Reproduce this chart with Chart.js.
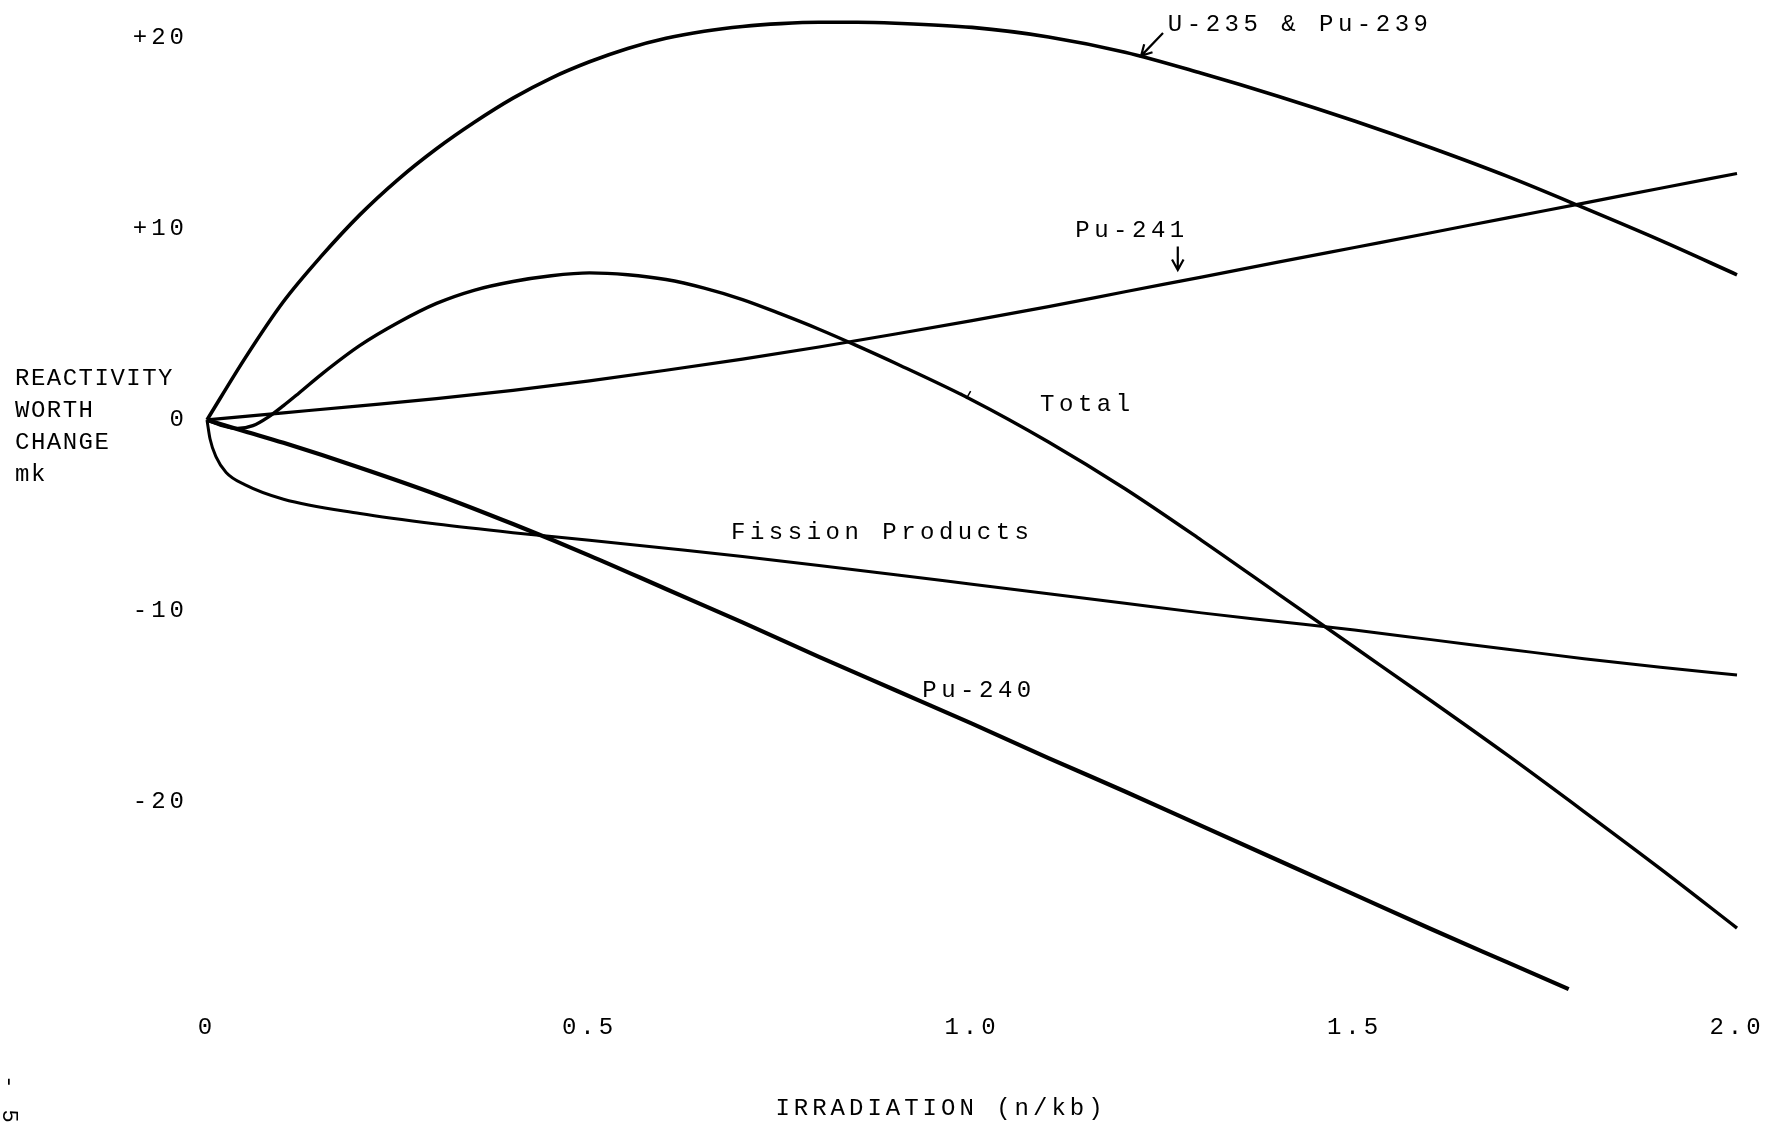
<!DOCTYPE html>
<html>
<head>
<meta charset="utf-8">
<script src="https://cdn.jsdelivr.net/npm/chart.js@4.4.1/dist/chart.umd.min.js"></script>
<style>
  html, body { margin: 0; padding: 0; background: #fff; }
  #graph { display: block; }
</style>
</head>
<body>
<canvas id="graph" width="1769" height="1125"></canvas>
<script>
// * Data: irradiation (n/kb) vs reactivity worth change (mk)
const u235X = [0, 0.05, 0.1, 0.15, 0.2, 0.25, 0.3, 0.35, 0.4, 0.45, 0.5, 0.55, 0.6, 0.65, 0.7, 0.75, 0.8, 0.85, 0.9, 1.0, 1.1, 1.2, 1.3, 1.4, 1.5, 1.6, 1.7, 1.8, 1.9, 2.0];
const u235Y = [0, 3.25, 6.2, 8.6, 10.75, 12.6, 14.2, 15.6, 16.85, 17.9, 18.75, 19.45, 19.98, 20.35, 20.6, 20.75, 20.82, 20.82, 20.77, 20.55, 20.05, 19.25, 18.15, 16.95, 15.65, 14.25, 12.75, 11.1, 9.4, 7.6];

const pu241X = [0, 0.1, 0.2, 0.3, 0.4, 0.5, 0.6, 0.7, 0.8, 0.9, 1.0, 1.1, 1.2, 1.3, 1.4, 1.5, 1.6, 1.7, 1.8, 1.9, 2.0];
const pu241Y = [0, 0.37, 0.74, 1.12, 1.55, 2.05, 2.6, 3.18, 3.82, 4.5, 5.2, 5.93, 6.71, 7.48, 8.26, 9.03, 9.8, 10.58, 11.35, 12.13, 12.9];

const totalX = [0, 0.02, 0.04, 0.06, 0.08, 0.1, 0.12, 0.15, 0.2, 0.25, 0.3, 0.35, 0.4, 0.45, 0.5, 0.55, 0.6, 0.65, 0.7, 0.75, 0.8, 0.85, 0.9, 1.0, 1.1, 1.2, 1.3, 1.4, 1.5, 1.6, 1.7, 1.8, 1.9, 2.0];
const totalY = [0, -0.3, -0.45, -0.3, 0.15, 0.75, 1.4, 2.4, 3.9, 5.1, 6.1, 6.8, 7.25, 7.55, 7.7, 7.6, 7.35, 6.9, 6.3, 5.55, 4.75, 3.88, 2.97, 1.05, -1.15, -3.6, -6.3, -9.1, -11.9, -14.7, -17.55, -20.5, -23.5, -26.6];

const fissionX = [0, 0.004, 0.012, 0.025, 0.05, 0.1, 0.2, 0.3, 0.4, 0.5, 0.6, 0.7, 0.8, 0.9, 1.0, 1.1, 1.2, 1.3, 1.4, 1.5, 1.6, 1.7, 1.8, 1.9, 2.0];
const fissionY = [0, -1.0, -1.95, -2.75, -3.4, -4.15, -4.9, -5.45, -5.9, -6.3, -6.72, -7.15, -7.62, -8.1, -8.6, -9.1, -9.6, -10.1, -10.55, -11.0, -11.5, -12.0, -12.5, -12.95, -13.35];

const pu240X = [0, 0.05, 0.1, 0.2, 0.3, 0.4, 0.5, 0.6, 0.7, 0.8, 0.9, 1.0, 1.1, 1.2, 1.3, 1.4, 1.5, 1.6, 1.7, 1.78];
const pu240Y = [0, -0.6, -1.2, -2.5, -3.9, -5.45, -7.1, -8.85, -10.6, -12.4, -14.15, -15.9, -17.7, -19.45, -21.25, -23.05, -24.85, -26.65, -28.4, -29.8];

const xTicks = [0, 0.5, 1.0, 1.5, 2.0];
const yTicks = [-20, -10, 0, 10, 20];
const xTitle = "IRRADIATION (n/kb)";
const yTitleLines = ["REACTIVITY", "WORTH", "CHANGE", "mk"];

// curve labels, placed in data units
const curveLabels = [
  { text: "U-235 & Pu-239", x: 1.256, y: 20.7 },
  { text: "Pu-241", x: 1.135, y: 9.92 },
  { text: "Total", x: 1.089, y: 0.78 },
  { text: "Fission Products", x: 0.685, y: -5.92 },
  { text: "Pu-240", x: 0.935, y: -14.19 },
];
const labelArrows = [
  { x1: 1.2497, y1: 20.26, x2: 1.221, y2: 19.06 },
  { x1: 1.269, y1: 9.08, x2: 1.269, y2: 7.85 },
];
// small pen mark sitting on the Total curve
const totalMark = { x: 0.993, y: 1.2 };

const monoFont = '"Liberation Mono", "Courier New", monospace';

const toPoints = (xs, ys) => xs.map((x, i) => ({ x: x, y: ys[i] }));

const curve = (label, xs, ys, width) => ({
  label: label,
  data: toPoints(xs, ys),
  borderColor: "#000",
  borderWidth: width,
  pointRadius: 0,
  fill: false,
  clip: false,
  cubicInterpolationMode: "monotone",
});

// * Arrows and free text
function drawArrow(ctx, x1, y1, x2, y2) {
  const ang = Math.atan2(y2 - y1, x2 - x1);
  const head = 12;
  ctx.beginPath();
  ctx.moveTo(x1, y1);
  ctx.lineTo(x2, y2);
  ctx.moveTo(x2 - head * Math.cos(ang - 0.5), y2 - head * Math.sin(ang - 0.5));
  ctx.lineTo(x2, y2);
  ctx.lineTo(x2 - head * Math.cos(ang + 0.5), y2 - head * Math.sin(ang + 0.5));
  ctx.stroke();
}

const annotations = {
  id: "annotations",
  beforeDraw(chart) {
    chart.ctx.letterSpacing = "4px";
  },
  afterDraw(chart) {
    const ctx = chart.ctx;
    const xs = chart.scales.x;
    const ys = chart.scales.y;
    ctx.save();
    ctx.fillStyle = "#000";
    ctx.strokeStyle = "#000";
    ctx.lineWidth = 2.2;
    ctx.font = "24px " + monoFont;
    ctx.textAlign = "left";
    ctx.textBaseline = "middle";
    ctx.letterSpacing = "4.5px";
    curveLabels.forEach((l) => {
      ctx.fillText(l.text, xs.getPixelForValue(l.x), ys.getPixelForValue(l.y));
    });
    labelArrows.forEach((a) => {
      drawArrow(ctx, xs.getPixelForValue(a.x1), ys.getPixelForValue(a.y1),
        xs.getPixelForValue(a.x2), ys.getPixelForValue(a.y2));
    });

    // tiny caret on the Total line
    const mx = xs.getPixelForValue(totalMark.x);
    const my = ys.getPixelForValue(totalMark.y);
    ctx.lineWidth = 1.5;
    ctx.beginPath();
    ctx.moveTo(mx - 6, my - 4);
    ctx.lineTo(mx, my + 1);
    ctx.lineTo(mx + 4, my - 6);
    ctx.stroke();

    // x axis title, a little left of the plot centre
    ctx.letterSpacing = "4px";
    ctx.textAlign = "center";
    ctx.fillText(xTitle, 941, 1109);

    // y axis title, written flat on the left
    ctx.letterSpacing = "1.5px";
    ctx.textAlign = "left";
    yTitleLines.forEach((t, i) => {
      ctx.fillText(t, 15, 379 + i * 32);
    });

    // page mark in the corner
    ctx.letterSpacing = "4px";
    ctx.translate(9, 1101);
    ctx.rotate(Math.PI / 2);
    ctx.textAlign = "center";
    ctx.font = "22px " + monoFont;
    ctx.fillText("- 5", 0, 0);
    ctx.restore();
  },
};

// * Chart
var ctxGraph = document.getElementById("graph").getContext("2d");

var reactivityChart = new Chart(ctxGraph, {
  type: "line",
  data: {
    datasets: [
      curve("U-235 & Pu-239", u235X, u235Y, 3.6),
      curve("Pu-241", pu241X, pu241Y, 3.2),
      curve("Total", totalX, totalY, 3.4),
      curve("Fission Products", fissionX, fissionY, 3),
      curve("Pu-240", pu240X, pu240Y, 4.2),
    ],
  },
  options: {
    responsive: false,
    animation: false,
    layout: { padding: { left: 0, right: 32, top: 36, bottom: 0 } },
    plugins: {
      legend: { display: false },
      tooltip: { enabled: false },
    },
    scales: {
      x: {
        type: "linear",
        min: 0,
        max: 2,
        afterBuildTicks: (scale) => {
          scale.ticks = xTicks.map((v) => ({ value: v }));
        },
        afterFit: (scale) => {
          scale.height = 132;
        },
        grid: { display: false, drawTicks: false },
        border: { display: false },
        ticks: {
          color: "#000",
          font: { family: monoFont, size: 24, lineHeight: 2.9 },
          padding: 0,
          maxRotation: 0,
          autoSkip: false,
          callback: (v) => (v === 0 ? "0" : v.toFixed(1)),
        },
      },
      y: {
        type: "linear",
        min: -30,
        max: 20.1,
        afterBuildTicks: (scale) => {
          scale.ticks = yTicks.map((v) => ({ value: v }));
        },
        afterFit: (scale) => {
          scale.width = 207;
        },
        grid: { display: false, drawTicks: false },
        border: { display: false },
        ticks: {
          color: "#000",
          font: { family: monoFont, size: 24 },
          padding: 19,
          callback: (v) => (v > 0 ? "+" + v : String(v)),
        },
      },
    },
  },
  plugins: [annotations],
});
</script>
</body>
</html>
